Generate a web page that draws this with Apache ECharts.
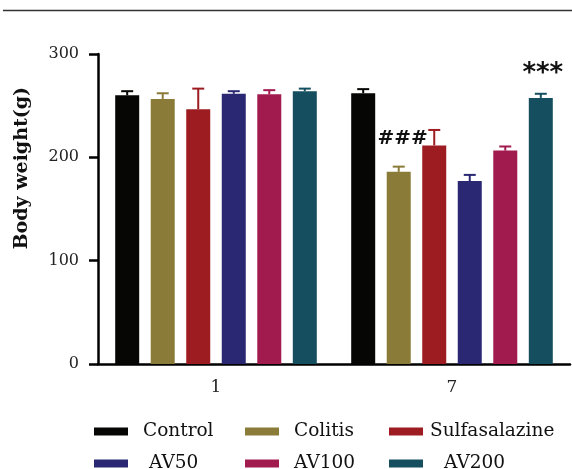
<!DOCTYPE html>
<html>
<head>
<meta charset="utf-8">
<script src="https://cdn.jsdelivr.net/npm/echarts@6/dist/echarts.min.js"></script>
<style>
  html, body { margin: 0; padding: 0; background: #fff; }
  #chart { width: 572px; height: 469px; }
</style>
</head>
<body>
<div id="chart"></div>
<script>
const days = ["1", "7"];
const groups = ["Control", "Colitis", "Sulfasalazine", "AV50", "AV100", "AV200"];
const colors = ["#060604", "#8a7b38", "#9d1c21", "#2a2873", "#a11b4e", "#154f5f"];

// mean body weight per group, [day 1, day 7]
const control = [260, 262];
const colitis = [256.5, 186];
const sulfasalazine = [246.5, 211.5];
const av50 = [261.5, 177];
const av100 = [261, 206.5];
const av200 = [264, 257.5];

// upper error (SEM) per group
const controlErr = [4, 4];
const colitisErr = [5.5, 5];
const sulfasalazineErr = [20, 15];
const av50Err = [2.5, 6];
const av100Err = [4, 4];
const av200Err = [2.5, 4];

const yTicks = [0, 100, 200, 300];

const means = [control, colitis, sulfasalazine, av50, av100, av200];
const errs = [controlErr, colitisErr, sulfasalazineErr, av50Err, av100Err, av200Err];

const serif = "'DejaVu Serif', 'Liberation Serif', serif";
const BAR_W = 24;
const BAR_GAP = 0.48;

const chart = echarts.init(document.getElementById("chart"));

const series = [];
groups.forEach((name, i) => {
  const data = means[i].map((v, j) => {
    const item = { value: v };
    if (name === "Colitis" && j === 1) {
      item.label = {
        show: true, position: "top", formatter: "###", offset: [4, -18],
        fontSize: 20, fontWeight: "bold", color: "#111",
        fontFamily: "'DejaVu Sans', sans-serif"
      };
    }
    if (name === "AV200" && j === 1) {
      item.label = {
        show: true, position: "top", formatter: "***", offset: [2, -6],
        fontSize: 26, fontWeight: "bold", color: "#111",
        fontFamily: "'DejaVu Sans', sans-serif"
      };
    }
    return item;
  });
  series.push({
    name: name,
    type: "bar",
    barWidth: BAR_W,
    barGap: BAR_GAP * 100 + "%",
    itemStyle: { color: colors[i] },
    data: data,
    z: 2
  });
  series.push({
    name: name,
    type: "custom",
    z: 3,
    silent: true,
    data: means[i].map((v, j) => [j, v, v + errs[i][j]]),
    renderItem: (params, api) => {
      const offset = (i - 2.5) * BAR_W * (1 + BAR_GAP);
      const base = api.coord([api.value(0), api.value(1)]);
      const top = api.coord([api.value(0), api.value(2)]);
      const x = base[0] + offset;
      const style = { stroke: colors[i], lineWidth: 2 };
      return {
        type: "group",
        children: [
          { type: "line", shape: { x1: x, y1: base[1], x2: x, y2: top[1] }, style: style },
          { type: "line", shape: { x1: x - 6, y1: top[1], x2: x + 6, y2: top[1] }, style: style }
        ]
      };
    }
  });
});

const legendPos = [
  { left: 94, top: 422 }, { left: 245, top: 422 }, { left: 389, top: 422 },
  { left: 94, top: 454 }, { left: 245, top: 454 }, { left: 389, top: 454 }
];
const legendPad = [10, 10, 2, 16, 10, 16];

const option = {
  animation: false,
  grid: { left: 98, right: 2, top: 54, bottom: 105 },
  graphic: [{
    type: "line",
    shape: { x1: 3, y1: 10.5, x2: 572, y2: 10.5 },
    style: { stroke: "#333", lineWidth: 1.5 }
  }, {
    type: "text",
    left: 13,
    top: 87,
    rotation: Math.PI / 2,
    style: {
      text: "Body weight(g)",
      font: "bold 19px " + serif,
      fill: "#111"
    }
  }],
  legend: groups.map((g, i) => ({
    data: [g],
    left: legendPos[i].left,
    top: legendPos[i].top,
    icon: "rect",
    itemWidth: 34,
    itemHeight: 8,
    padding: 0,
    selectedMode: false,
    textStyle: {
      fontFamily: serif, fontSize: 18.5, color: "#111",
      padding: [0, 0, 0, legendPad[i]]
    }
  })),
  xAxis: {
    type: "category",
    data: days,
    axisLine: { lineStyle: { color: "#000", width: 2.5 } },
    axisTick: { alignWithLabel: true, length: 8, lineStyle: { color: "#000", width: 2.5 } },
    axisLabel: { fontFamily: serif, fontSize: 17, color: "#222", margin: 15 }
  },
  yAxis: {
    type: "value",
    min: yTicks[0],
    max: yTicks[yTicks.length - 1],
    interval: 100,
    splitLine: { show: false },
    axisLine: { show: true, lineStyle: { color: "#000", width: 2.5 } },
    axisTick: { show: true, length: 9, lineStyle: { color: "#000", width: 2.5 } },
    axisLabel: { fontFamily: serif, fontSize: 16, color: "#222", margin: 19 }
  },
  series: series
};

chart.setOption(option);
</script>
</body>
</html>
